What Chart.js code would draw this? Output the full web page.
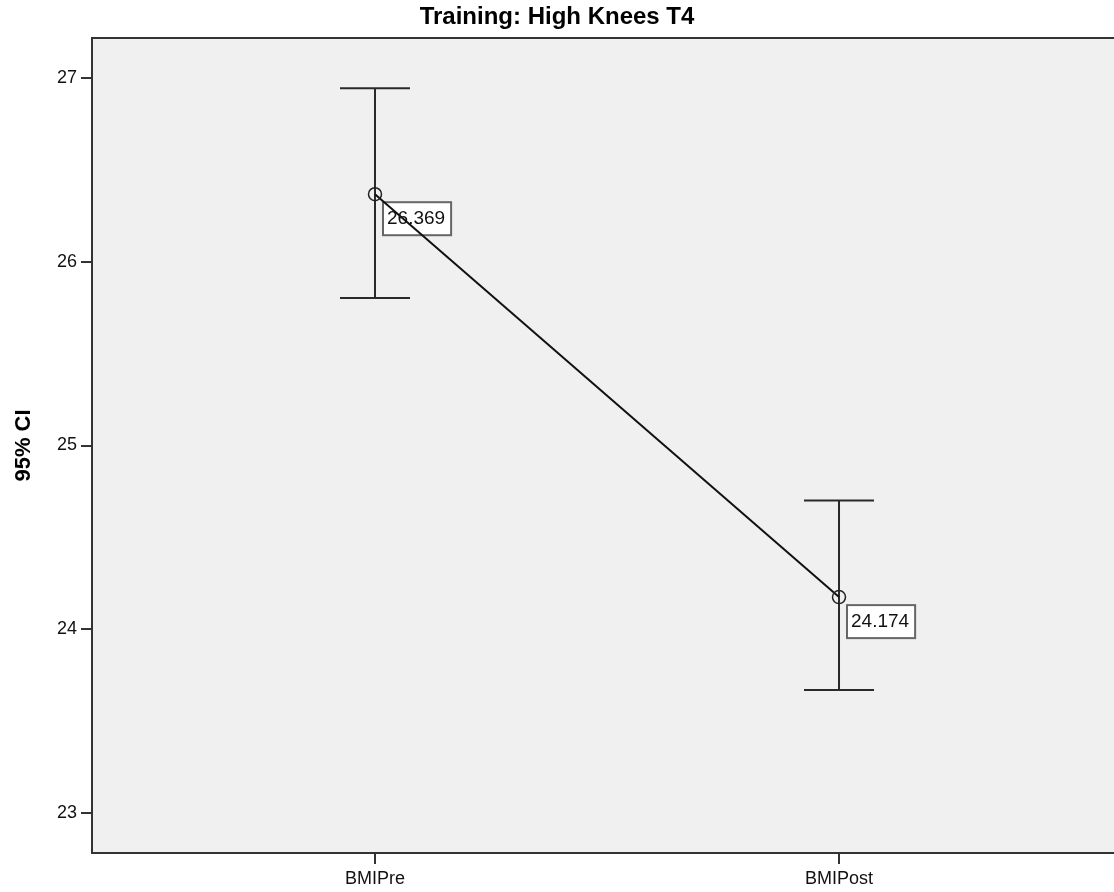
<!DOCTYPE html>
<html>
<head>
<meta charset="utf-8">
<script src="https://cdn.jsdelivr.net/npm/chart.js@4"></script>
<style>
  html, body { margin: 0; padding: 0; background: #fff; overflow: hidden; }
  #wrap { width: 1114px; height: 892px; }
</style>
</head>
<body>
<div id="wrap"><canvas id="myCanvas"></canvas></div>
<script>
// data
var categories = ['BMIPre', 'BMIPost'];
var means = [26.369, 24.174];
var ciLower = [25.804, 23.668];
var ciUpper = [26.946, 24.701];
var yTicks = [23, 24, 25, 26, 27];

Chart.defaults.font.family = "'Liberation Sans', Arial, sans-serif";
Chart.defaults.color = '#111';

var points = [];
for (var i in means) {
  points.push({ x: Number(i), y: means[i] });
}

// grey plot background, running out to the right edge, + top/bottom border
var plotBox = {
  id: 'plotBox',
  beforeDraw: function(chart) {
    var a = chart.chartArea, ctx = chart.ctx;
    ctx.save();
    ctx.fillStyle = '#f0f0f0';
    ctx.fillRect(a.left, a.top, chart.width - a.left, a.bottom - a.top);
    ctx.restore();
  },
  afterDraw: function(chart) {
    var a = chart.chartArea, ctx = chart.ctx;
    ctx.save();
    ctx.strokeStyle = '#333';
    ctx.lineWidth = 2;
    ctx.beginPath();
    ctx.moveTo(a.left, a.top);
    ctx.lineTo(chart.width, a.top);
    ctx.moveTo(a.left, a.bottom);
    ctx.lineTo(chart.width, a.bottom);
    ctx.stroke();
    ctx.restore();
  }
};

// error bars and value boxes, under the mean line
var ciBars = {
  id: 'ciBars',
  beforeDatasetsDraw: function(chart) {
    var ctx = chart.ctx;
    var xs = chart.scales.x, ys = chart.scales.y;
    ctx.save();
    ctx.strokeStyle = '#2a2a2a';
    ctx.lineWidth = 2;
    for (var i = 0; i < means.length; i++) {
      var px = xs.getPixelForValue(i);
      var top = ys.getPixelForValue(ciUpper[i]);
      var bot = ys.getPixelForValue(ciLower[i]);
      ctx.beginPath();
      ctx.moveTo(px, top); ctx.lineTo(px, bot);
      ctx.moveTo(px - 35, top); ctx.lineTo(px + 35, top);
      ctx.moveTo(px - 35, bot); ctx.lineTo(px + 35, bot);
      ctx.stroke();
    }
    ctx.font = "19px 'Liberation Sans', Arial, sans-serif";
    ctx.textBaseline = 'middle';
    for (var j = 0; j < means.length; j++) {
      var mx = xs.getPixelForValue(j);
      var my = ys.getPixelForValue(means[j]);
      var txt = means[j].toFixed(3);
      var w = ctx.measureText(txt).width + 10;
      var bx = mx + 8, by = my + 8;
      ctx.fillStyle = '#fff';
      ctx.fillRect(bx, by, w, 33);
      ctx.strokeStyle = '#666';
      ctx.lineWidth = 2;
      ctx.strokeRect(bx, by, w, 33);
      ctx.fillStyle = '#111';
      ctx.fillText(txt, bx + 4, by + 17);
    }
    ctx.restore();
  }
};

var ctx = document.getElementById('myCanvas');
var chart = new Chart(ctx, {
  type: 'scatter',
  data: {
    datasets: [
      {
        data: points,
        showLine: true,
        borderColor: '#111',
        borderWidth: 2,
        pointRadius: 6.5,
        pointBorderWidth: 1.5,
        pointBorderColor: '#222',
        pointBackgroundColor: 'rgba(0,0,0,0)'
      }
    ]
  },
  options: {
    responsive: true,
    maintainAspectRatio: false,
    animation: false,
    layout: { padding: 0 },
    plugins: {
      legend: { display: false },
      tooltip: { enabled: false },
      title: {
        display: true,
        text: 'Training: High Knees T4',
        color: '#000',
        font: { size: 24, weight: 'bold', lineHeight: 1.2 },
        padding: { top: 3, bottom: 6.2 }
      }
    },
    scales: {
      x: {
        type: 'linear',
        min: -0.6099,
        max: 1.5754,
        afterBuildTicks: function(scale) {
          scale.ticks = categories.map(function(c, k) { return { value: k }; });
        },
        afterFit: function(scale) { scale.height = 39; },
        ticks: {
          callback: function(v) { return categories[v]; },
          font: { size: 18 },
          color: '#111',
          padding: 4,
          maxRotation: 0
        },
        grid: { drawOnChartArea: false, tickLength: 11, color: '#333', lineWidth: 2 },
        border: { display: true, color: '#333', width: 2 }
      },
      y: {
        min: 22.78,
        max: 27.22,
        afterBuildTicks: function(scale) {
          scale.ticks = yTicks.map(function(v) { return { value: v }; });
        },
        afterFit: function(scale) { scale.width = 92; },
        ticks: { font: { size: 18 }, color: '#111', padding: 4 },
        grid: { drawOnChartArea: false, tickLength: 11, color: '#333', lineWidth: 2 },
        border: { display: true, color: '#333', width: 2 },
        title: {
          display: true,
          text: '95% CI',
          color: '#000',
          font: { size: 22, weight: 'bold', lineHeight: 1.2 },
          padding: { top: 11, bottom: 0 }
        }
      }
    }
  },
  plugins: [plotBox, ciBars]
});
</script>
</body>
</html>
